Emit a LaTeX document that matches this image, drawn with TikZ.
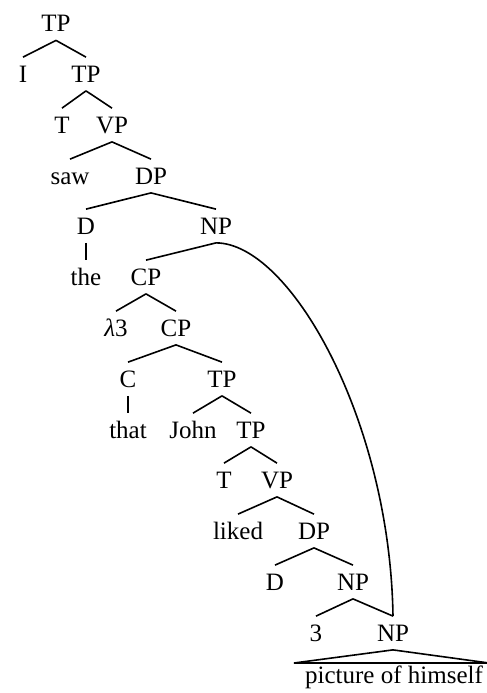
\documentclass[tikz,border=0pt]{standalone}
\usepackage{fontspec}
\setmainfont{Liberation Serif}
\tikzset{
  lbl/.style={inner sep=0pt, outer sep=4.3pt, text height=8.28pt, text depth=0pt},
  branch/.style={thick}
}
\begin{document}
\begin{tikzpicture}[x=0.5pt,y=-0.5pt,every node/.style={lbl},font=\fontsize{12.5}{15}\selectfont]
\useasboundingbox (0,0) rectangle (487,693);
\node (tp0) at (56,23.5) {TP};
\node (i) at (23,74) {I};
\node (tp1) at (86,74) {TP};
\node (t1) at (62,125) {T};
\node (vp1) at (112,125) {VP};
\node (saw) at (70,176) {saw};
\node (dp1) at (151,176) {DP};
\node (d1) at (86,226) {D};
\node (np1) at (216,226) {NP};
\node (the) at (86,277) {the};
\node (cp1) at (146,277) {CP};
\node (lam) at (116,328) {\textit{λ}3};
\node (cp2) at (176,328) {CP};
\node (c) at (128,379) {C};
\node (tp2) at (222,379) {TP};
\node (that) at (128,430) {that};
\node (john) at (193,430) {John};
\node (tp3) at (251,430) {TP};
\node (t2) at (224,480) {T};
\node (vp2) at (277,480) {VP};
\node (liked) at (238,531) {liked};
\node (dp2) at (314,531) {DP};
\node (d2) at (275,582) {D};
\node (np2) at (353,582) {NP};
\node (three) at (316,633) {3};
\node (np3) at (393,633) {NP};
\node (pic) at (394,675) {picture of himself};
\coordinate (tl) at (294,663);
\coordinate (tr) at (489,663);
\draw[branch] (tp0.south) -- (i.north);
\draw[branch] (tp0.south) -- (tp1.north);
\draw[branch] (tp1.south) -- (t1.north);
\draw[branch] (tp1.south) -- (vp1.north);
\draw[branch] (vp1.south) -- (saw.north);
\draw[branch] (vp1.south) -- (dp1.north);
\draw[branch] (dp1.south) -- (d1.north);
\draw[branch] (dp1.south) -- (np1.north);
\draw[branch] (d1.south) -- (the.north);
\draw[branch] (np1.south) -- (cp1.north);
\draw[branch] (cp1.south) -- (lam.north);
\draw[branch] (cp1.south) -- (cp2.north);
\draw[branch] (cp2.south) -- (c.north);
\draw[branch] (cp2.south) -- (tp2.north);
\draw[branch] (c.south) -- (that.north);
\draw[branch] (tp2.south) -- (john.north);
\draw[branch] (tp2.south) -- (tp3.north);
\draw[branch] (tp3.south) -- (t2.north);
\draw[branch] (tp3.south) -- (vp2.north);
\draw[branch] (vp2.south) -- (liked.north);
\draw[branch] (vp2.south) -- (dp2.north);
\draw[branch] (dp2.south) -- (d2.north);
\draw[branch] (dp2.south) -- (np2.north);
\draw[branch] (np2.south) -- (three.north);
\draw[branch] (np2.south) -- (np3.north);
% remerged NP
\draw[branch] (np1.south) .. controls (290,243) and (390,420) .. (np3.north);
\draw[branch] (np3.south) -- (tl) -- (tr) -- cycle;
\end{tikzpicture}
\end{document}
